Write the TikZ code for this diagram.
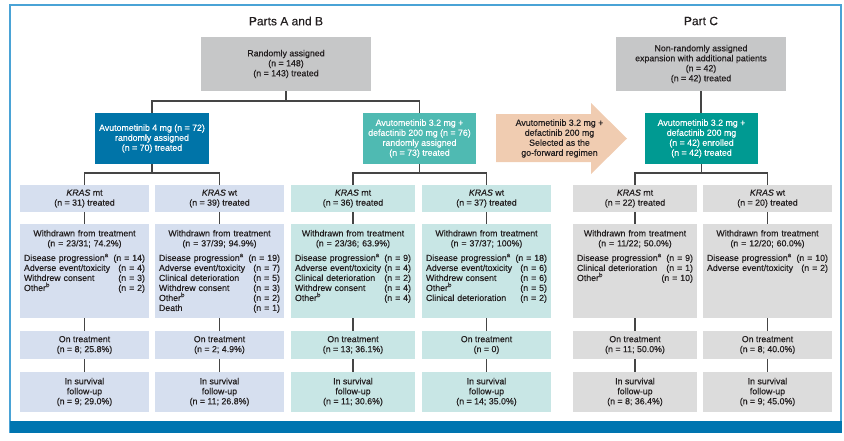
\documentclass[tikz,border=0pt]{standalone}
\usepackage{fontspec}
\setmainfont{Liberation Sans}[FakeBold=0.35]
\definecolor{framec}{HTML}{4AA3D6}
\definecolor{bandc}{HTML}{0075B0}
\definecolor{topgray}{HTML}{C6C7C8}
\definecolor{blueA}{HTML}{0074A8}
\definecolor{tealA}{HTML}{4FBAB2}
\definecolor{tealC}{HTML}{009A92}
\definecolor{peach}{HTML}{F0CCB1}
\definecolor{lblue}{HTML}{D6DFEF}
\definecolor{lteal}{HTML}{C8E6E5}
\definecolor{lgray}{HTML}{DCDCDC}
\definecolor{txt}{HTML}{231F20}
\definecolor{linec}{HTML}{454545}
\newcommand{\sups}[1]{\smash{\textsuperscript{#1}}}
\begin{document}
\begin{tikzpicture}[x=1pt,y=-1pt,
  every node/.style={font=\fontsize{8.8}{10}\selectfont, text=txt},
  box/.style={inner sep=0pt, align=center, draw=none},
  wtext/.style={inner sep=0pt, anchor=north},
  conn/.style={draw=linec, line width=1.8pt},
  title/.style={font=\fontsize{12}{14}\selectfont, text=txt}]
\useasboundingbox (0,0) rectangle (844,440);
% frame and band
\draw[framec, line width=1.4pt] (10,433) -- (10,5) -- (841,5) -- (841,433);
\fill[bandc] (10,421) rectangle (841.7,433);
% titles
\node[title] (tAB) at (286,21) {Parts A and B};
\node[title] (tC) at (701,21) {Part C};
% top boxes
\node[box, fill=topgray, minimum width=170pt, minimum height=54pt] (top) at (286,64)
  {Randomly assigned\\(n = 148)\\(n = 143) treated};
\node[box, fill=topgray, minimum width=170pt, minimum height=54pt] (ctop) at (701,64)
  {Non-randomly assigned\\expansion with additional patients\\(n = 42)\\(n = 42) treated};
% arm boxes
\node[box, fill=blueA, text=white, minimum width=114pt, minimum height=51pt] (a4) at (152,138.5)
  {Avutometinib 4 mg (n = 72)\\randomly assigned\\(n = 70) treated};
\node[box, fill=tealA, text=white, minimum width=113pt, minimum height=51pt] (a32) at (419.5,138.5)
  {Avutometinib 3.2 mg +\\defactinib 200 mg (n = 76)\\randomly assigned\\(n = 73) treated};
\node[box, fill=tealC, text=white, minimum width=113pt, minimum height=51pt] (cteal) at (701.5,138.5)
  {Avutometinib 3.2 mg +\\defactinib 200 mg\\(n = 42) enrolled\\(n = 42) treated};
% arrow
\coordinate (ar1) at (496,114);
\coordinate (ar2) at (591,114);
\coordinate (ar3) at (591,103);
\coordinate (ar4) at (627,138.5);
\coordinate (ar5) at (591,174);
\coordinate (ar6) at (591,162);
\coordinate (ar7) at (496,162);
\fill[peach] (ar1) -- (ar2) -- (ar3) -- (ar4) -- (ar5) -- (ar6) -- (ar7) -- cycle;
\node[box] (arrtext) at (559.5,138.5)
  {Avutometinib 3.2 mg +\\defactinib 200 mg\\Selected as the\\go-forward regimen};
% column boxes
\foreach \n/\cx/\w/\col/\kt/\on/\sv in {
  1/84.5/129/lblue/{\textit{KRAS} mt\\(n = 31) treated}/{(n = 8; 25.8\%)}/{(n = 9; 29.0\%)},
  2/219.5/129/lblue/{\textit{KRAS} wt\\(n = 39) treated}/{(n = 2; 4.9\%)}/{(n = 11; 26.8\%)},
  3/353/124/lteal/{\textit{KRAS} mt\\(n = 36) treated}/{(n = 13; 36.1\%)}/{(n = 11; 30.6\%)},
  4/486.5/129/lteal/{\textit{KRAS} wt\\(n = 37) treated}/{(n = 0)}/{(n = 14; 35.0\%)},
  5/635/124/lgray/{\textit{KRAS} mt\\(n = 22) treated}/{(n = 11; 50.0\%)}/{(n = 8; 36.4\%)},
  6/767.5/129/lgray/{\textit{KRAS} wt\\(n = 20) treated}/{(n = 8; 40.0\%)}/{(n = 9; 45.0\%)}}{
  \node[box, fill=\col, minimum width=\w pt, minimum height=27pt] (k\n) at (\cx,198.5) {\kt};
  \node[box, fill=\col, minimum width=\w pt, minimum height=94pt] (w\n) at (\cx,271) {};
  \node[box, fill=\col, minimum width=\w pt, minimum height=28pt] (o\n) at (\cx,345) {On treatment\\\on};
  \node[box, fill=\col, minimum width=\w pt, minimum height=40pt] (s\n) at (\cx,392) {In survival\\follow-up\\\sv};
}
% withdrawn texts
\newcommand{\wdhead}[1]{{\centering Withdrawn from treatment\\#1\par}\vspace{4.6pt}}
\node[wtext, text width=121pt] (wt1) at ([yshift=-6pt]w1.north)
  {\wdhead{(n = 23/31; 74.2\%)}
   Disease progression\sups{a}\hfill(n = 14)\\
   Adverse event/toxicity\hfill(n = 4)\\
   Withdrew consent\hfill(n = 3)\\
   Other\sups{b}\hfill(n = 2)};
\node[wtext, text width=121pt] (wt2) at ([yshift=-6pt]w2.north)
  {\wdhead{(n = 37/39; 94.9\%)}
   Disease progression\sups{a}\hfill(n = 19)\\
   Adverse event/toxicity\hfill(n = 7)\\
   Clinical deterioration\hfill(n = 5)\\
   Withdrew consent\hfill(n = 3)\\
   Other\sups{b}\hfill(n = 2)\\
   Death\hfill(n = 1)};
\node[wtext, text width=116pt] (wt3) at ([yshift=-6pt]w3.north)
  {\wdhead{(n = 23/36; 63.9\%)}
   Disease progression\sups{a}\hfill(n = 9)\\
   Adverse event/toxicity\hfill(n = 4)\\
   Clinical deterioration\hfill(n = 2)\\
   Withdrew consent\hfill(n = 4)\\
   Other\sups{b}\hfill(n = 4)};
\node[wtext, text width=121pt] (wt4) at ([yshift=-6pt]w4.north)
  {\wdhead{(n = 37/37; 100\%)}
   Disease progression\sups{a}\hfill(n = 18)\\
   Adverse event/toxicity\hfill(n = 6)\\
   Withdrew consent\hfill(n = 6)\\
   Other\sups{b}\hfill(n = 5)\\
   Clinical deterioration\hfill(n = 2)};
\node[wtext, text width=116pt] (wt5) at ([yshift=-6pt]w5.north)
  {\wdhead{(n = 11/22; 50.0\%)}
   Disease progression\sups{a}\hfill(n = 9)\\
   Clinical deterioration\hfill(n = 1)\\
   Other\sups{b}\hfill(n = 10)};
\node[wtext, text width=121pt] (wt6) at ([yshift=-6pt]w6.north)
  {\wdhead{(n = 12/20; 60.0\%)}
   Disease progression\sups{a}\hfill(n = 10)\\
   Adverse event/toxicity\hfill(n = 2)};
% connectors
\draw[conn] (top.south) -- ++(0,10) -| (a4.north);
\draw[conn] (top.south) -- ++(0,10) -| (a32.north);
\draw[conn] (ctop.south) -- (ctop.south |- cteal.north);
\draw[conn] (a4.south) -- ++(0,9) -| (k1.north);
\draw[conn] (a4.south) -- ++(0,9) -| (k2.north);
\draw[conn] (a32.south) -- ++(0,9) -| (k3.north);
\draw[conn] (a32.south) -- ++(0,9) -| (k4.north);
\draw[conn] (cteal.south) -- ++(0,9) -| (k5.north);
\draw[conn] (cteal.south) -- ++(0,9) -| (k6.north);
\foreach \n in {1,...,6}{
  \draw[conn] (k\n.south) -- (w\n.north);
  \draw[conn] (w\n.south) -- (o\n.north);
  \draw[conn] (o\n.south) -- (s\n.north);
}
\end{tikzpicture}
\end{document}
